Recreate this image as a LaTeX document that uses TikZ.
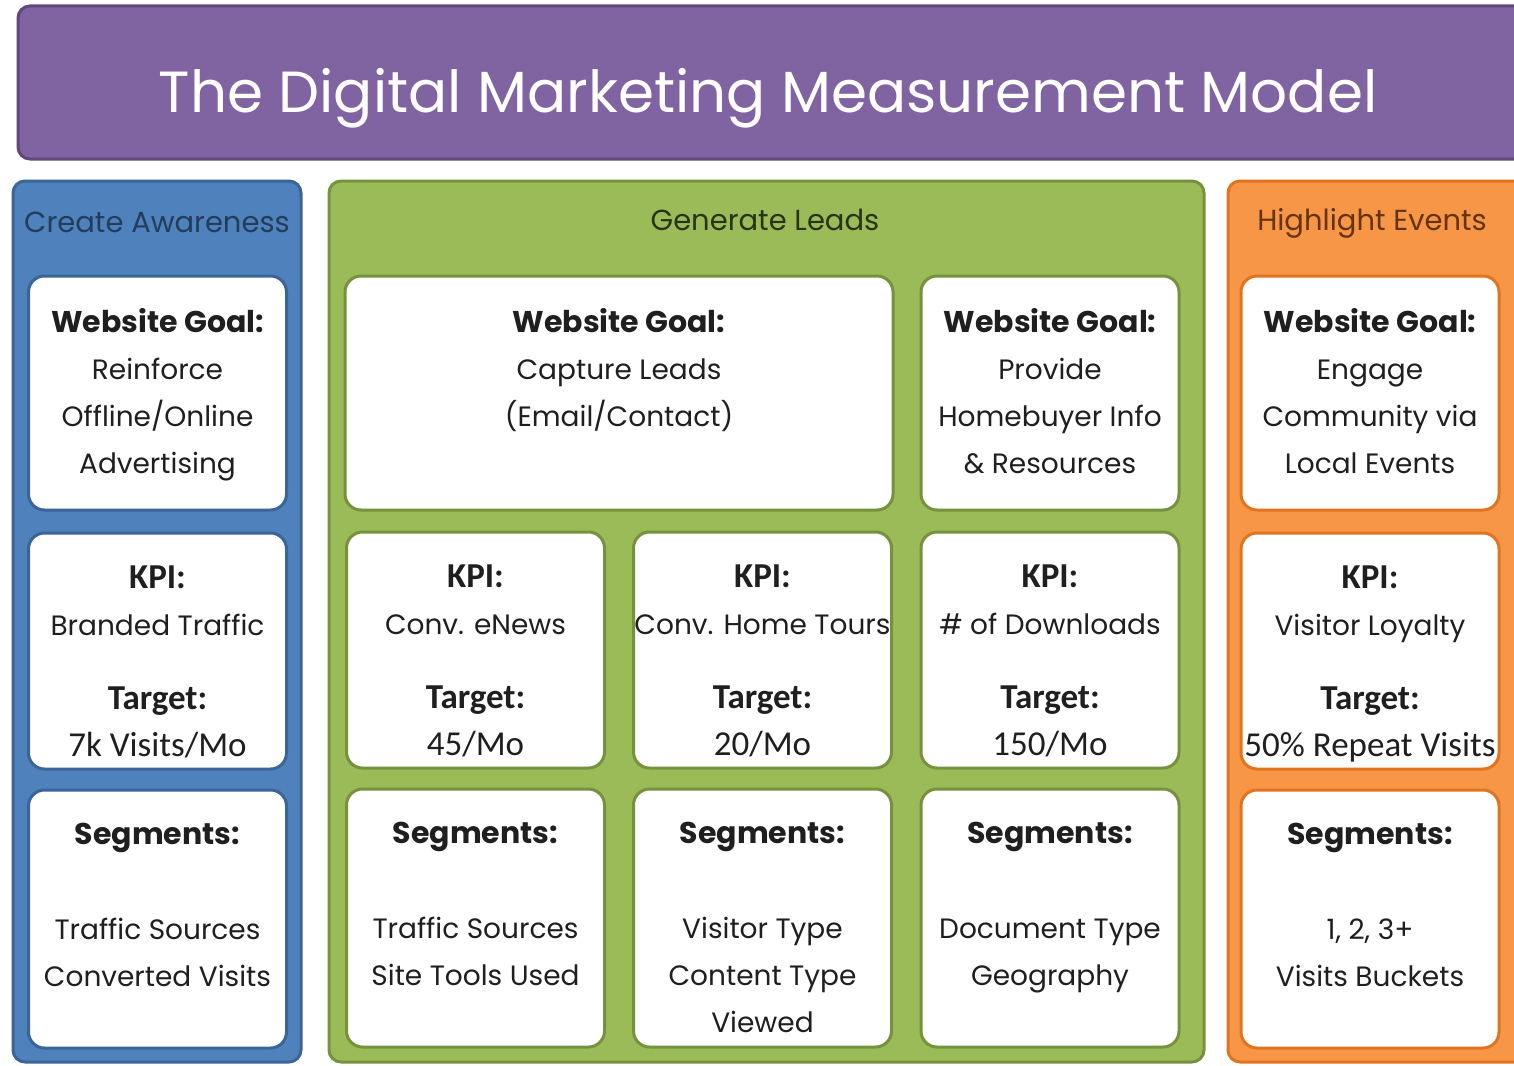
\documentclass[tikz,border=0pt]{standalone}
\usepackage{fontspec}
\setmainfont{Poppins}
\newfontfamily\calfont{Carlito}
\usetikzlibrary{positioning}

\definecolor{mpurple}{HTML}{8064A2}
\definecolor{mpurpledark}{HTML}{5F497A}
\definecolor{mblue}{HTML}{4F81BD}
\definecolor{mbluedark}{HTML}{3A6596}
\definecolor{mgreen}{HTML}{9BBB59}
\definecolor{mgreendark}{HTML}{76923C}
\definecolor{morange}{HTML}{F79646}
\definecolor{morangedark}{HTML}{E0741F}

\newcommand{\topstrut}{\rule{0pt}{30pt}}
\newcommand{\goalhead}{{\bfseries\fontsize{30}{47}\selectfont Website Goal:}}
\newcommand{\seghead}{{\bfseries\fontsize{30}{47}\selectfont Segments:}}
\newcommand{\calhead}[1]{{\calfont\bfseries\fontsize{35}{47}\selectfont #1}}
\newcommand{\calval}[1]{{\calfont\fontsize{35}{47}\selectfont #1}}

\tikzset{
  panel/.style={rounded corners=12pt, line width=3pt},
  card/.style={draw, fill=white, rounded corners=16pt, line width=3pt, minimum width=258pt, inner sep=0pt},
  txt/.style={align=center, anchor=north, inner sep=0pt, text=black!88, font=\fontsize{28}{47}\selectfont, execute at begin node=\topstrut},
  head/.style={anchor=base, font=\fontsize{29}{34}\selectfont}
}

\begin{document}
\begin{tikzpicture}[x=1pt, y=-1pt]
  \useasboundingbox (0,0) rectangle (1514,1065);
  \clip (0,0) rectangle (1514,1065);
  \fill[white] (0,0) rectangle (1514,1065);

  \draw[panel, fill=mpurple, draw=mpurpledark] (18,6) rectangle (1540,159);
  \draw[panel, fill=mblue, draw=mbluedark] (13,181) rectangle (301,1062);
  \draw[panel, fill=mgreen, draw=mgreendark] (329,181) rectangle (1204,1062);
  \draw[panel, fill=morange, draw=morangedark] (1228,181) rectangle (1540,1062);

  \node [anchor=base, text=white, font=\fontsize{58}{70}\selectfont] (title) at (768,112) {The Digital Marketing Measurement Model};
  \node [head, text=mbluedark!60!black] (h_aware) at (157,232) {Create Awareness};
  \node [head, text=mgreendark!35!black] (h_leads) at (765,230) {Generate Leads};
  \node [head, text=morangedark!45!black] (h_events) at (1372,230) {Highlight Events};

  \node [card, draw=mbluedark, minimum height=234pt] (g_aware) at (157.5,393) {};
  \node [card, draw=mbluedark, minimum height=236pt] (k_aware) [below=20pt of g_aware] {};
  \node [card, draw=mbluedark, minimum height=258pt] (s_aware) [below=18pt of k_aware] {};

  \node [card, draw=mgreendark, minimum width=548pt, minimum height=234pt] (g_leads) at (619,393) {};
  \node [card, draw=mgreendark, minimum height=234pt] (g_info) at (1050,393) {};
  \node [card, draw=mgreendark, minimum height=236pt] (k_news) at (475.5,650) {};
  \node [card, draw=mgreendark, minimum height=236pt] (k_tours) at (762.5,650) {};
  \node [card, draw=mgreendark, minimum height=236pt] (k_downloads) at (1050,650) {};
  \node [card, draw=mgreendark, minimum height=258pt] (s_news) [below=18pt of k_news] {};
  \node [card, draw=mgreendark, minimum height=258pt] (s_tours) [below=18pt of k_tours] {};
  \node [card, draw=mgreendark, minimum height=258pt] (s_downloads) [below=18pt of k_downloads] {};

  \node [card, draw=morangedark, minimum height=234pt] (g_events) at (1370,393) {};
  \node [card, draw=morangedark, minimum height=236pt] (k_events) [below=20pt of g_events] {};
  \node [card, draw=morangedark, minimum height=258pt] (s_events) [below=18pt of k_events] {};

  \node [txt] (t_g_aware) at ([yshift=-34pt]g_aware.north) {\goalhead\\ Reinforce\\ Offline/Online\\ Advertising};
  \node [txt] (t_g_leads) at ([yshift=-34pt]g_leads.north) {\goalhead\\ Capture Leads\\ (Email/Contact)};
  \node [txt] (t_g_info) at ([yshift=-34pt]g_info.north) {\goalhead\\ Provide\\ Homebuyer Info\\ \& Resources};
  \node [txt] (t_g_events) at ([yshift=-34pt]g_events.north) {\goalhead\\ Engage\\ Community via\\ Local Events};

  \node [txt] (t_k_aware) at ([yshift=-34pt]k_aware.north) {\calhead{KPI:}\\ Branded Traffic\\[27pt] \calhead{Target:}\\ \calval{7k Visits/Mo}};
  \node [txt] (t_k_news) at ([yshift=-34pt]k_news.north) {\calhead{KPI:}\\ Conv. eNews\\[27pt] \calhead{Target:}\\ \calval{45/Mo}};
  \node [txt] (t_k_tours) at ([yshift=-34pt]k_tours.north) {\calhead{KPI:}\\ Conv. Home Tours\\[27pt] \calhead{Target:}\\ \calval{20/Mo}};
  \node [txt] (t_k_downloads) at ([yshift=-34pt]k_downloads.north) {\calhead{KPI:}\\ \# of Downloads\\[27pt] \calhead{Target:}\\ \calval{150/Mo}};
  \node [txt] (t_k_events) at ([yshift=-34pt]k_events.north) {\calhead{KPI:}\\ Visitor Loyalty\\[27pt] \calhead{Target:}\\ \calval{50\% Repeat Visits}};

  \node [txt] (t_s_aware) at ([yshift=-34pt]s_aware.north) {\seghead\\[48pt] Traffic Sources\\ Converted Visits};
  \node [txt] (t_s_news) at ([yshift=-34pt]s_news.north) {\seghead\\[48pt] Traffic Sources\\ Site Tools Used};
  \node [txt] (t_s_tours) at ([yshift=-34pt]s_tours.north) {\seghead\\[48pt] Visitor Type\\ Content Type\\ Viewed};
  \node [txt] (t_s_downloads) at ([yshift=-34pt]s_downloads.north) {\seghead\\[48pt] Document Type\\ Geography};
  \node [txt] (t_s_events) at ([yshift=-34pt]s_events.north) {\seghead\\[48pt] 1, 2, 3+\\ Visits Buckets};
\end{tikzpicture}
\end{document}
